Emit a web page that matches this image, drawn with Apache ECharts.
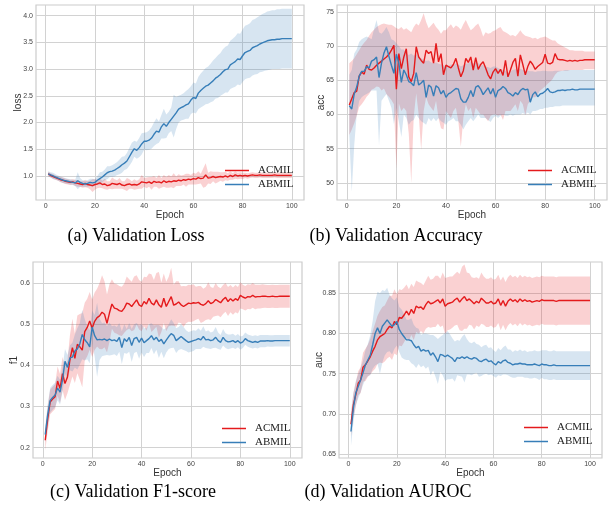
<!DOCTYPE html>
<html>
<head>
<meta charset="utf-8">
<script src="https://cdn.jsdelivr.net/npm/echarts@6/dist/echarts.min.js"></script>
<style>
html,body{margin:0;padding:0;background:#fff;}
#chart{width:609px;height:514px;}
</style>
</head>
<body>
<div id="chart"></div>
<script>
// ---------------- DATA ----------------
const seriesNames = ['ACMIL', 'ABMIL'];
const xTicks = [0, 20, 40, 60, 80, 100];
const lossTicks = [1.0, 1.5, 2.0, 2.5, 3.0, 3.5, 4.0];
const accTicks = [50, 55, 60, 65, 70, 75];
const f1Ticks = [0.2, 0.3, 0.4, 0.5, 0.6];
const aucTicks = [0.65, 0.70, 0.75, 0.80, 0.85];
const captions = ['(a) Validation Loss', '(b) Validation Accuracy', '(c) Validation F1-score', '(d) Validation AUROC'];

// Validation loss (mean and spread) per epoch 1..100
const lossACMIL = [1.04,1.01,0.99,0.97,0.95,0.93,0.92,0.90,0.89,0.88,
 0.89,0.87,0.86,0.85,0.84,0.86,0.84,0.83,0.82,0.84,
 0.85,0.87,0.84,0.85,0.82,0.83,0.86,0.85,0.84,0.86,
 0.83,0.82,0.84,0.85,0.83,0.84,0.83,0.85,0.89,0.88,
 0.87,0.89,0.86,0.90,0.88,0.89,0.87,0.91,0.88,0.90,
 0.89,0.91,0.90,0.92,0.91,0.93,0.92,0.94,0.93,0.95,
 0.94,0.97,0.95,0.96,1.02,0.96,0.97,0.99,0.97,0.98,
 0.99,0.98,1.00,0.98,1.01,0.99,1.02,1.00,1.01,1.00,
 1.01,1.00,1.01,1.02,1.01,1.01,1.02,1.01,1.01,1.01,
 1.01,1.01,1.02,1.01,1.01,1.01,1.01,1.01,1.01,1.01];
const lossACMILsd = [0.04,0.04,0.04,0.04,0.04,0.05,0.05,0.05,0.05,0.05,
 0.05,0.06,0.06,0.05,0.06,0.07,0.06,0.08,0.12,0.10,
 0.08,0.09,0.07,0.10,0.08,0.07,0.11,0.09,0.08,0.10,
 0.07,0.08,0.12,0.09,0.07,0.10,0.08,0.09,0.13,0.08,
 0.10,0.09,0.12,0.10,0.08,0.13,0.09,0.11,0.10,0.12,
 0.10,0.14,0.09,0.11,0.10,0.09,0.12,0.10,0.09,0.11,
 0.10,0.12,0.09,0.18,0.22,0.10,0.12,0.09,0.11,0.10,
 0.08,0.09,0.08,0.07,0.08,0.06,0.07,0.06,0.06,0.06,
 0.05,0.05,0.05,0.05,0.05,0.05,0.05,0.05,0.05,0.05,
 0.05,0.05,0.05,0.05,0.05,0.05,0.05,0.05,0.05,0.05];
const lossABMIL = [1.04,1.02,1.00,0.98,0.96,0.94,0.92,0.91,0.90,0.89,
 0.88,0.87,0.91,0.88,0.86,0.85,0.86,0.88,0.87,0.88,
 0.92,0.95,0.98,1.02,1.06,1.08,1.09,1.11,1.14,1.17,
 1.21,1.24,1.28,1.36,1.44,1.51,1.48,1.53,1.60,1.65,
 1.65,1.67,1.71,1.78,1.84,1.82,1.92,1.98,1.93,2.00,
 2.06,2.12,2.18,2.25,2.28,2.30,2.33,2.35,2.42,2.47,
 2.45,2.55,2.60,2.64,2.68,2.70,2.74,2.78,2.83,2.86,
 2.90,2.95,2.99,3.00,3.08,3.11,3.14,3.19,3.18,3.25,
 3.31,3.33,3.35,3.40,3.42,3.44,3.47,3.49,3.51,3.53,
 3.54,3.55,3.55,3.56,3.56,3.57,3.57,3.57,3.57,3.57];
const lossABMILsd = [0.05,0.05,0.06,0.05,0.05,0.05,0.05,0.05,0.05,0.05,
 0.05,0.06,0.16,0.08,0.06,0.05,0.06,0.07,0.08,0.06,
 0.08,0.12,0.10,0.10,0.12,0.10,0.11,0.12,0.12,0.14,
 0.15,0.13,0.15,0.17,0.18,0.15,0.16,0.18,0.20,0.16,
 0.17,0.18,0.20,0.22,0.24,0.20,0.22,0.28,0.22,0.20,
 0.22,0.40,0.30,0.25,0.24,0.25,0.26,0.28,0.26,0.28,
 0.28,0.30,0.32,0.33,0.34,0.35,0.36,0.38,0.38,0.40,
 0.40,0.42,0.43,0.44,0.45,0.46,0.47,0.48,0.48,0.49,
 0.50,0.50,0.51,0.52,0.52,0.53,0.53,0.54,0.54,0.55,
 0.55,0.55,0.55,0.56,0.56,0.56,0.56,0.56,0.56,0.56];

// Validation accuracy (mean, lower and upper edge of band)
const accACMIL = [61.4,62.3,63.2,63.4,65.6,66.2,65.9,67.2,66.6,66.5,
 66.8,67.2,67.5,67.8,68.1,68.4,68.8,69.4,70.1,63.7,
 68.9,66.7,68.4,69.6,65.5,64.8,66.0,69.9,68.4,67.9,
 67.5,69.4,68.9,69.2,67.5,70.4,67.7,68.9,65.8,67.2,
 67.0,66.8,67.3,68.2,66.8,65.5,66.4,68.2,67.6,68.4,
 66.5,68.3,66.6,67.3,67.7,66.8,65.8,65.2,66.2,66.7,
 66.0,66.6,65.7,67.9,65.5,66.5,67.6,68.2,65.6,68.7,
 67.3,65.8,67.0,67.8,67.3,66.6,67.0,67.3,67.6,68.8,
 67.5,67.4,67.6,68.9,68.1,68.0,68.0,67.9,67.8,67.9,
 67.8,67.9,67.8,67.9,67.9,68.0,68.0,68.0,68.0,68.0];
const accACMILlo = [57.0,57.8,58.7,59.8,61.1,61.5,62.0,62.6,63.0,63.6,
 63.8,64.1,64.0,63.5,63.8,63.0,62.6,62.1,61.5,52.1,
 61.6,60.5,61.0,60.5,57.2,50.0,59.7,63.1,60.0,54.8,
 60.5,62.5,61.5,61.0,60.5,62.0,59.5,58.0,57.8,60.5,
 60.0,59.5,60.5,61.0,59.0,55.3,59.5,61.5,60.5,61.0,
 59.5,61.0,60.5,60.0,60.0,59.5,59.0,59.8,60.0,60.0,
 59.8,60.0,59.2,60.5,60.5,60.5,61.0,61.5,60.5,62.0,
 61.5,59.9,61.5,62.0,62.5,62.5,63.0,63.5,63.8,64.1,
 64.5,64.8,65.2,65.8,66.2,66.3,66.4,66.4,66.4,66.5,
 66.5,66.5,66.5,66.5,66.5,66.6,66.6,66.6,66.6,66.6];
const accACMILhi = [67.5,67.8,68.2,68.8,69.4,70.0,70.5,70.9,71.5,72.0,
 72.4,72.8,73.0,73.2,73.3,73.2,73.1,73.1,72.9,72.6,
 72.5,72.8,72.4,72.6,72.3,72.0,72.8,73.3,73.0,73.8,
 74.8,73.5,72.6,73.0,73.4,72.8,72.4,71.8,72.3,72.3,
 72.8,73.2,72.6,73.0,72.8,72.4,73.2,73.8,73.0,72.3,
 72.6,73.0,73.3,72.5,71.4,72.0,71.8,71.9,72.2,72.3,
 72.6,72.8,72.2,72.0,71.8,71.5,71.6,71.4,71.8,72.3,
 71.8,71.5,71.4,71.3,71.1,71.2,71.0,71.2,71.3,71.4,
 71.2,71.0,70.8,70.8,70.4,70.2,70.0,69.8,69.6,69.4,
 69.4,69.3,69.3,69.3,69.3,69.2,69.2,69.2,69.2,69.2];
const accABMIL = [61.3,60.8,63.0,64.0,65.6,66.3,66.3,67.0,66.8,67.8,
 68.0,68.4,65.4,67.5,69.0,69.9,68.5,67.2,66.0,68.8,
 67.5,64.7,66.5,65.8,64.8,64.6,64.2,66.1,64.3,64.6,
 65.0,62.5,64.3,64.0,62.7,64.2,63.9,63.0,63.5,62.5,
 63.0,63.2,63.5,63.8,63.7,62.3,61.8,61.8,62.5,63.5,
 62.6,64.0,64.2,63.7,62.9,63.4,63.9,63.0,63.8,62.5,
 63.5,63.7,64.1,63.8,63.2,63.0,62.7,63.2,62.9,63.5,
 63.8,63.6,63.7,61.8,62.9,63.3,62.6,63.0,63.1,63.4,
 63.8,63.3,63.2,63.3,63.5,63.5,63.6,63.5,63.6,63.6,
 63.7,63.6,63.6,63.7,63.7,63.7,63.7,63.7,63.7,63.7];
const accABMILlo = [57.0,48.7,55.5,60.0,62.0,62.5,62.8,63.0,63.2,63.5,
 63.5,63.5,55.5,62.0,62.5,63.0,62.0,61.0,58.6,61.0,
 59.0,56.7,60.0,59.5,58.5,59.0,59.2,60.0,59.5,59.0,
 58.8,58.5,59.5,59.0,59.5,59.0,59.5,59.0,58.8,58.5,
 59.0,59.2,59.5,59.0,59.0,58.5,57.8,58.5,59.0,59.5,
 59.0,59.5,60.0,59.5,59.5,59.5,59.2,58.9,59.5,59.8,
 59.5,59.8,60.0,59.8,59.8,60.0,59.8,60.0,60.0,60.0,
 60.2,60.0,60.3,60.0,60.5,60.5,60.6,60.8,60.8,61.0,
 61.0,61.1,61.1,61.2,61.2,61.2,61.3,61.3,61.3,61.3,
 61.3,61.3,61.3,61.3,61.3,61.3,61.3,61.3,61.3,61.3];
const accABMILhi = [65.8,66.5,68.9,69.5,70.6,71.0,71.2,71.4,71.2,71.0,
 72.5,73.8,72.0,71.8,72.2,72.8,72.0,71.0,70.8,70.4,
 70.0,69.5,69.5,69.0,68.7,68.9,68.6,68.8,68.4,68.2,
 68.0,67.8,67.9,67.6,67.5,67.6,67.4,67.3,67.2,67.0,
 67.1,67.3,67.2,67.4,67.3,67.0,67.2,67.4,67.5,67.7,
 67.4,67.6,67.5,67.3,67.2,67.0,66.9,66.8,67.0,67.0,
 66.8,66.6,66.5,66.4,66.0,66.3,66.5,66.6,66.5,66.7,
 66.5,66.4,66.4,66.3,66.3,66.2,66.3,66.3,66.4,66.4,
 66.3,66.3,66.3,66.4,66.4,66.4,66.4,66.5,66.5,66.5,
 66.5,66.5,66.5,66.5,66.5,66.5,66.5,66.5,66.5,66.5];

// Validation F1-score (mean and spread)
const f1ACMIL = [0.218,0.270,0.311,0.318,0.324,0.362,0.344,0.380,0.356,0.372,
 0.413,0.443,0.417,0.451,0.445,0.437,0.482,0.492,0.508,0.490,
 0.507,0.516,0.520,0.529,0.524,0.502,0.527,0.549,0.539,0.537,
 0.533,0.531,0.539,0.551,0.549,0.543,0.551,0.559,0.547,0.543,
 0.555,0.549,0.563,0.551,0.547,0.559,0.547,0.541,0.563,0.543,
 0.555,0.567,0.546,0.549,0.554,0.547,0.543,0.547,0.551,0.550,
 0.552,0.551,0.553,0.548,0.546,0.550,0.557,0.550,0.553,0.560,
 0.556,0.552,0.560,0.565,0.555,0.562,0.556,0.562,0.558,0.570,
 0.566,0.563,0.567,0.566,0.570,0.566,0.567,0.567,0.568,0.568,
 0.567,0.567,0.568,0.567,0.567,0.568,0.568,0.568,0.568,0.568];
const f1ACMILsd = [0.025,0.030,0.030,0.030,0.030,0.035,0.035,0.040,0.040,0.040,
 0.060,0.070,0.060,0.070,0.080,0.090,0.070,0.070,0.070,0.070,
 0.070,0.070,0.080,0.090,0.080,0.070,0.070,0.060,0.060,0.060,
 0.060,0.060,0.060,0.065,0.060,0.060,0.065,0.060,0.060,0.060,
 0.060,0.065,0.060,0.070,0.060,0.065,0.080,0.060,0.060,0.060,
 0.060,0.070,0.050,0.055,0.050,0.045,0.050,0.045,0.045,0.045,
 0.045,0.040,0.040,0.045,0.040,0.040,0.045,0.040,0.035,0.040,
 0.035,0.035,0.035,0.035,0.035,0.033,0.033,0.033,0.032,0.032,
 0.030,0.030,0.030,0.030,0.030,0.030,0.029,0.029,0.029,0.028,
 0.028,0.028,0.028,0.028,0.028,0.028,0.028,0.028,0.028,0.028];
const f1ABMIL = [0.232,0.280,0.315,0.322,0.328,0.345,0.335,0.365,0.410,0.395,
 0.418,0.420,0.435,0.440,0.452,0.475,0.462,0.455,0.445,0.493,
 0.472,0.462,0.463,0.462,0.464,0.460,0.464,0.460,0.462,0.458,
 0.468,0.443,0.465,0.458,0.468,0.448,0.465,0.468,0.456,0.466,
 0.455,0.460,0.465,0.472,0.462,0.468,0.458,0.463,0.452,0.461,
 0.470,0.477,0.473,0.460,0.465,0.470,0.465,0.460,0.456,0.458,
 0.460,0.462,0.465,0.462,0.470,0.462,0.463,0.460,0.462,0.468,
 0.460,0.456,0.468,0.460,0.457,0.458,0.460,0.456,0.460,0.454,
 0.457,0.465,0.460,0.458,0.456,0.458,0.456,0.459,0.459,0.459,
 0.460,0.459,0.459,0.460,0.460,0.460,0.460,0.460,0.460,0.460];
const f1ABMILsd = [0.020,0.025,0.030,0.030,0.030,0.030,0.030,0.030,0.030,0.030,
 0.030,0.035,0.040,0.050,0.050,0.060,0.050,0.040,0.040,0.040,
 0.050,0.090,0.050,0.040,0.040,0.035,0.040,0.035,0.035,0.035,
 0.035,0.040,0.035,0.030,0.035,0.040,0.035,0.035,0.040,0.035,
 0.035,0.030,0.035,0.030,0.035,0.030,0.040,0.030,0.035,0.030,
 0.030,0.035,0.030,0.030,0.028,0.030,0.028,0.025,0.025,0.025,
 0.025,0.022,0.025,0.022,0.025,0.020,0.022,0.020,0.020,0.025,
 0.020,0.018,0.020,0.018,0.018,0.017,0.017,0.016,0.016,0.016,
 0.015,0.015,0.015,0.015,0.015,0.015,0.015,0.015,0.015,0.015,
 0.014,0.014,0.014,0.014,0.014,0.014,0.014,0.014,0.014,0.014];

// Validation AUROC (mean and spread)
const aucACMIL = [0.687,0.711,0.724,0.738,0.742,0.758,0.761,0.766,0.771,0.778,
 0.784,0.792,0.796,0.798,0.800,0.805,0.809,0.807,0.815,0.811,
 0.820,0.819,0.823,0.828,0.823,0.830,0.825,0.834,0.832,0.833,
 0.830,0.836,0.840,0.837,0.838,0.840,0.842,0.838,0.843,0.834,
 0.837,0.838,0.839,0.842,0.844,0.839,0.843,0.846,0.841,0.843,
 0.840,0.837,0.840,0.838,0.844,0.841,0.838,0.838,0.840,0.837,
 0.838,0.843,0.835,0.841,0.834,0.840,0.843,0.840,0.842,0.839,
 0.843,0.840,0.842,0.840,0.841,0.839,0.840,0.841,0.840,0.842,
 0.841,0.841,0.841,0.841,0.841,0.840,0.841,0.841,0.841,0.841,
 0.841,0.841,0.841,0.841,0.841,0.841,0.841,0.841,0.841,0.841];
const aucACMILsd = [0.015,0.015,0.015,0.015,0.016,0.018,0.020,0.020,0.022,0.025,
 0.028,0.030,0.032,0.035,0.035,0.036,0.038,0.040,0.040,0.038,
 0.035,0.035,0.034,0.033,0.032,0.032,0.033,0.032,0.032,0.030,
 0.030,0.030,0.032,0.030,0.030,0.032,0.030,0.030,0.033,0.035,
 0.033,0.033,0.032,0.032,0.033,0.035,0.040,0.040,0.035,0.032,
 0.030,0.032,0.030,0.030,0.032,0.030,0.030,0.030,0.030,0.030,
 0.030,0.030,0.031,0.030,0.030,0.030,0.030,0.030,0.030,0.030,
 0.030,0.030,0.030,0.030,0.030,0.030,0.030,0.030,0.030,0.030,
 0.030,0.030,0.030,0.030,0.030,0.030,0.030,0.030,0.030,0.030,
 0.030,0.030,0.030,0.030,0.030,0.030,0.030,0.030,0.030,0.030];
const aucABMIL = [0.678,0.707,0.726,0.734,0.742,0.751,0.761,0.767,0.773,0.786,
 0.800,0.807,0.800,0.809,0.813,0.817,0.813,0.809,0.811,0.815,
 0.805,0.800,0.796,0.792,0.792,0.791,0.786,0.782,0.784,0.778,
 0.780,0.778,0.779,0.773,0.776,0.771,0.765,0.774,0.773,0.771,
 0.773,0.771,0.769,0.765,0.770,0.769,0.771,0.769,0.771,0.769,
 0.768,0.770,0.769,0.766,0.765,0.767,0.768,0.765,0.766,0.763,
 0.761,0.765,0.763,0.766,0.767,0.764,0.763,0.761,0.762,0.762,
 0.763,0.762,0.762,0.761,0.761,0.761,0.762,0.761,0.760,0.762,
 0.761,0.761,0.760,0.760,0.761,0.760,0.760,0.760,0.760,0.760,
 0.760,0.760,0.760,0.760,0.760,0.760,0.760,0.760,0.760,0.760];
const aucABMILsd = [0.018,0.018,0.015,0.015,0.015,0.015,0.018,0.020,0.025,0.030,
 0.040,0.045,0.050,0.045,0.040,0.040,0.035,0.035,0.030,0.030,
 0.028,0.030,0.028,0.025,0.025,0.028,0.025,0.025,0.022,0.020,
 0.020,0.022,0.020,0.025,0.022,0.025,0.028,0.022,0.025,0.030,
 0.030,0.028,0.025,0.025,0.022,0.022,0.025,0.030,0.022,0.020,
 0.020,0.020,0.018,0.020,0.018,0.018,0.018,0.017,0.017,0.016,
 0.016,0.017,0.016,0.017,0.018,0.016,0.017,0.016,0.017,0.016,
 0.017,0.016,0.017,0.016,0.017,0.017,0.017,0.017,0.018,0.017,
 0.018,0.018,0.018,0.018,0.018,0.018,0.018,0.018,0.018,0.018,
 0.018,0.018,0.018,0.018,0.018,0.018,0.018,0.018,0.018,0.018];

// ---------------- CHART ----------------
const RED = '#e41a1c', BLUE = '#377eb8';
const RED_BAND = 'rgba(228,26,28,0.2)', BLUE_BAND = 'rgba(55,126,184,0.2)';
const SANS = 'Liberation Sans', SERIF = 'Liberation Serif';

function pairs(vals) { return vals.map((v, i) => [i + 1, v]); }
function subArr(a, b) { return a.map((v, i) => v - b[i]); }
function addArr(a, b) { return a.map((v, i) => v + b[i]); }

const panels = [
  { grid: { left: 36, top: 5, width: 268, height: 195 }, yName: 'loss', yMin: 0.55, yMax: 4.2, ticks: lossTicks, fmt: v => v.toFixed(1), nameGap: 13,
    red: lossACMIL, redLo: subArr(lossACMIL, lossACMILsd), redHi: addArr(lossACMIL, lossACMILsd),
    blue: lossABMIL, blueLo: subArr(lossABMIL, lossABMILsd), blueHi: addArr(lossABMIL, lossABMILsd),
    legend: { left: 220, top: 160 }, cap: { x: 136, y: 236 } },
  { grid: { left: 337, top: 5, width: 270, height: 195 }, yName: 'acc', yMin: 47.5, yMax: 76, ticks: accTicks, fmt: v => String(Math.round(v)), nameGap: 11,
    red: accACMIL, redLo: accACMILlo, redHi: accACMILhi,
    blue: accABMIL, blueLo: accABMILlo, blueHi: accABMILhi,
    legend: { left: 523, top: 160 }, cap: { x: 396, y: 236 } },
  { grid: { left: 33, top: 262, width: 269, height: 196 }, yName: 'f1', yMin: 0.175, yMax: 0.651, ticks: f1Ticks, fmt: v => v.toFixed(1), nameGap: 14,
    red: f1ACMIL, redLo: subArr(f1ACMIL, f1ACMILsd), redHi: addArr(f1ACMIL, f1ACMILsd),
    blue: f1ABMIL, blueLo: subArr(f1ABMIL, f1ABMILsd), blueHi: addArr(f1ABMIL, f1ABMILsd),
    legend: { left: 217, top: 418 }, cap: { x: 133, y: 492 } },
  { grid: { left: 339, top: 262, width: 263, height: 196 }, yName: 'auc', yMin: 0.645, yMax: 0.889, ticks: aucTicks, fmt: v => v.toFixed(2), nameGap: 15,
    red: aucACMIL, redLo: subArr(aucACMIL, aucACMILsd), redHi: addArr(aucACMIL, aucACMILsd),
    blue: aucABMIL, blueLo: subArr(aucABMIL, aucABMILsd), blueHi: addArr(aucABMIL, aucABMILsd),
    legend: { left: 519, top: 417 }, cap: { x: 388, y: 492 } }
];

function bandSeries(idx, lo, hi, color) {
  return {
    type: 'custom', xAxisIndex: idx, yAxisIndex: idx, silent: true, z: 1,
    data: [0],
    clip: true,
    renderItem: function (params, api) {
      const pts = [];
      for (let i = 0; i < hi.length; i++) pts.push(api.coord([i + 1, hi[i]]));
      for (let i = lo.length - 1; i >= 0; i--) pts.push(api.coord([i + 1, lo[i]]));
      return {
        type: 'polygon',
        shape: { points: pts },
        style: { fill: color, stroke: 'none' },
        clipPath: { type: 'rect', shape: { x: params.coordSys.x, y: params.coordSys.y, width: params.coordSys.width, height: params.coordSys.height } }
      };
    }
  };
}

const option = {
  backgroundColor: '#ffffff',
  animation: false,
  grid: [], xAxis: [], yAxis: [], series: [], legend: [], graphic: []
};

panels.forEach((p, i) => {
  option.grid.push(Object.assign({ show: true, borderColor: '#cccccc', borderWidth: 1.2, backgroundColor: 'transparent' }, p.grid));
  option.xAxis.push({
    type: 'value', gridIndex: i, min: -3.95, max: 104.95,
    name: 'Epoch', nameLocation: 'middle', nameGap: 10, nameMoveOverlap: false,
    nameTextStyle: { fontFamily: SANS, fontSize: 10, color: '#333', verticalAlign: 'top' },
    axisLine: { show: false },
    axisTick: { show: false, customValues: xTicks },
    axisLabel: { customValues: xTicks, fontFamily: SANS, fontSize: 7, color: '#444', margin: 3, formatter: v => String(v) },
    splitLine: { show: true, lineStyle: { color: '#d2d2d2', width: 1 } }
  });
  option.yAxis.push({
    type: 'value', gridIndex: i, min: p.yMin, max: p.yMax,
    name: p.yName, nameLocation: 'middle', nameGap: p.nameGap, nameMoveOverlap: false,
    nameTextStyle: { fontFamily: SANS, fontSize: 10, color: '#333' },
    axisLine: { show: false },
    axisTick: { show: false, customValues: p.ticks },
    axisLabel: { customValues: p.ticks, fontFamily: SANS, fontSize: 7, color: '#444', margin: 3, formatter: p.fmt },
    splitLine: { show: true, lineStyle: { color: '#d2d2d2', width: 1 } }
  });
  option.series.push(bandSeries(i, p.redLo, p.redHi, RED_BAND));
  option.series.push(bandSeries(i, p.blueLo, p.blueHi, BLUE_BAND));
  option.series.push({
    type: 'line', name: seriesNames[0], xAxisIndex: i, yAxisIndex: i, z: 3,
    data: pairs(p.red), showSymbol: false, symbol: 'none', color: RED,
    lineStyle: { color: RED, width: 1.4 }
  });
  option.series.push({
    type: 'line', name: seriesNames[1], xAxisIndex: i, yAxisIndex: i, z: 3,
    data: pairs(p.blue), showSymbol: false, symbol: 'none', color: BLUE,
    lineStyle: { color: BLUE, width: 1.4 }
  });
  option.legend.push({
    orient: 'vertical', left: p.legend.left, top: p.legend.top,
    data: [{ name: seriesNames[0], itemStyle: { color: RED } }, { name: seriesNames[1], itemStyle: { color: BLUE } }],
    icon: 'rect', itemWidth: 24, itemHeight: 1.5, itemGap: 3,
    textStyle: { fontFamily: SERIF, fontSize: 11, color: '#222', padding: [0, 0, 0, 4] },
    selectedMode: false
  });
  option.graphic.push({
    type: 'text', x: p.cap.x, y: p.cap.y,
    style: { text: captions[i], font: '18px "Liberation Serif"', fill: '#000', textAlign: 'center', textVerticalAlign: 'middle' }
  });
});

const chart = echarts.init(document.getElementById('chart'), null, { renderer: 'canvas' });
chart.setOption(option);
</script>
</body>
</html>
